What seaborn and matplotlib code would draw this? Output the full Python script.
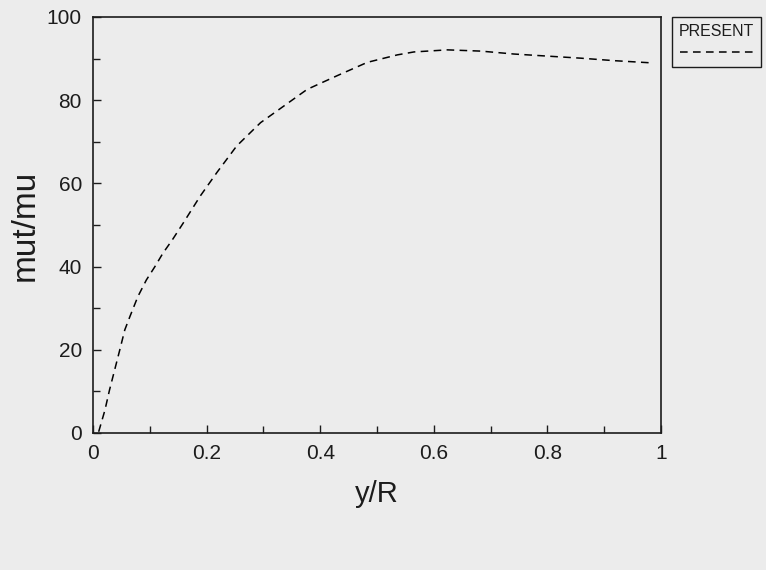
import matplotlib
matplotlib.use("Agg")
import matplotlib.pyplot as plt
from matplotlib.ticker import MultipleLocator
import seaborn as sns
import pandas as pd

# data
y_over_R = [0.01, 0.021, 0.029, 0.038, 0.047, 0.056, 0.065, 0.079, 0.094, 0.109,
            0.123, 0.14, 0.159, 0.189, 0.218, 0.253, 0.295, 0.336, 0.377, 0.43,
            0.483, 0.536, 0.565, 0.624, 0.683, 0.741, 0.80, 0.859, 0.918, 0.98]
mut_mu = [0.3, 5.5, 10.3, 15.1, 19.9, 24.8, 28.0, 32.8, 36.8, 40.0,
          43.2, 46.5, 50.5, 57.0, 62.6, 69.0, 74.6, 78.6, 82.6, 85.9,
          89.1, 90.9, 91.6, 92.1, 91.8, 91.1, 90.6, 90.1, 89.5, 89.0]
series_name = "PRESENT"
x_ticks = [0, 0.2, 0.4, 0.6, 0.8, 1.0]
x_tick_labels = ["0", "0.2", "0.4", "0.6", "0.8", "1"]
y_ticks = [0, 20, 40, 60, 80, 100]

df = pd.DataFrame({"y/R": y_over_R, "mut/mu": mut_mu})

sns.set_style("ticks")
plt.rcParams["font.family"] = ["Liberation Sans", "DejaVu Sans"]

ink = "#1c1c1c"
bg = "#ececec"
fig = plt.figure(figsize=(7.66, 5.70), dpi=100, facecolor=bg)
ax = fig.add_axes([93/766, 1 - 433/570, (661 - 93)/766, (433 - 17)/570])
ax.set_facecolor(bg)

sns.lineplot(data=df, x="y/R", y="mut/mu", ax=ax, color="black",
             linewidth=1.1, linestyle=(0, (5, 3.5)), sort=False)
line = ax.get_lines()[0]

ax.set_xlim(0, 1)
ax.set_ylim(0, 100)
ax.set_xticks(x_ticks)
ax.set_xticklabels(x_tick_labels)
ax.set_yticks(y_ticks)
ax.xaxis.set_minor_locator(MultipleLocator(0.1))
ax.yaxis.set_minor_locator(MultipleLocator(10))
ax.tick_params(which="both", direction="in", colors=ink, labelcolor=ink,
               width=1.0)
ax.tick_params(which="major", length=6, labelsize=15, pad=8)
ax.tick_params(which="minor", length=5)
for s in ax.spines.values():
    s.set_linewidth(1.2)
    s.set_color(ink)

ax.set_xlabel("y/R", fontsize=21, color=ink, labelpad=12)
ax.set_ylabel("mut/mu", fontsize=24, color=ink, labelpad=4)

leg = ax.legend(handles=[line], labels=[""], title=series_name,
                loc="upper left", bbox_to_anchor=(672/766, 1 - 17/570),
                bbox_transform=fig.transFigure, borderaxespad=0,
                fancybox=False, framealpha=1, facecolor=bg, edgecolor=ink,
                handlelength=4.8, handletextpad=0, borderpad=0.45,
                fontsize=11, title_fontsize=11.5)
leg.get_frame().set_linewidth(1.0)
leg.get_title().set_color(ink)

fig.savefig("out.png", dpi=100, facecolor=bg)
